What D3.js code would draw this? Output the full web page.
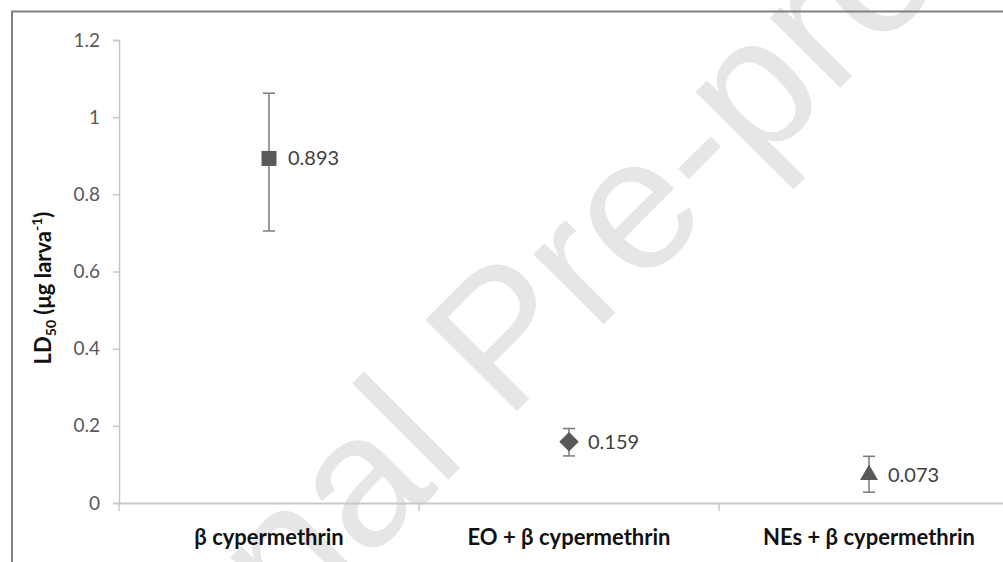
<!DOCTYPE html>
<html><head><meta charset="utf-8">
<script src="https://cdn.jsdelivr.net/npm/d3@7"></script>
<style>body{margin:0;background:#fff}svg{display:block}</style>
</head><body>
<script>
const categories = ["β cypermethrin", "EO + β cypermethrin", "NEs + β cypermethrin"];
const values = [0.893, 0.159, 0.073];
const upper = [1.062, 0.193, 0.121];
const lower = [0.705, 0.122, 0.028];
const shapes = ["square", "diamond", "triangle"];
const yTicks = [0, 0.2, 0.4, 0.6, 0.8, 1, 1.2];

const W = 1003, H = 562;
const FONT = "Lato, 'Open Sans', sans-serif";
const svg = d3.select("body").append("svg").attr("width", W).attr("height", H);

// watermark
svg.append("text")
  .attr("transform", "translate(33,895) rotate(-45)")
  .attr("text-anchor", "start")
  .style("font-family", "'Liberation Sans', Arial, sans-serif").style("font-size", "188px")
  .attr("fill", "#e6e6e6").text("Journal Pre-proof");

// outer border
svg.append("rect").attr("x", 12).attr("y", 11.5).attr("width", W + 20).attr("height", H + 20)
  .attr("fill", "none").attr("stroke", "#808080").attr("stroke-width", 2);

const x = d3.scaleBand().domain(categories).range([119, 1019]);
const y = d3.scaleLinear().domain([0, 1.2]).range([503, 40]);

const fmt = d => d === 0 || d === 1 ? String(d) : d.toFixed(1);
const yAxis = svg.append("g").attr("transform", "translate(119,0)")
  .call(d3.axisLeft(y).tickValues(yTicks).tickFormat(fmt).tickSize(6).tickPadding(13));
yAxis.select(".domain").attr("stroke", "#c8c8c8").attr("stroke-width", 1.5);
yAxis.selectAll(".tick line").attr("stroke", "#c8c8c8").attr("stroke-width", 1.5);
yAxis.selectAll(".tick text").attr("fill", "#595959")
  .style("font-family", FONT).style("font-size", "19px");

const xAxis = svg.append("g").attr("transform", "translate(0,503)")
  .call(d3.axisBottom(x).tickSize(0).tickPadding(0).tickFormat(""));
xAxis.select(".domain").attr("stroke", "#c8c8c8").attr("stroke-width", 2);
svg.selectAll(".catTick").data(categories).join("line")
  .attr("x1", d => x(d)).attr("x2", d => x(d)).attr("y1", 503).attr("y2", 511)
  .attr("stroke", "#c8c8c8").attr("stroke-width", 1.5);

svg.selectAll(".catLabel").data(categories).join("text")
  .attr("x", d => x(d) + x.bandwidth() / 2).attr("y", 545)
  .attr("text-anchor", "middle").attr("fill", "#111")
  .style("font-family", FONT).style("font-weight", "bold").style("font-size", "22px")
  .text(d => d);

// axis title
const at = svg.append("text").attr("transform", "translate(51,288) rotate(-90)")
  .attr("text-anchor", "middle").attr("fill", "#111")
  .style("font-family", FONT).style("font-weight", "bold").style("font-size", "22px");
at.append("tspan").text("LD");
at.append("tspan").attr("dy", 5).style("font-size", "14px").text("50");
at.append("tspan").attr("dy", -5).text(" (μg larva");
at.append("tspan").attr("dy", -9).style("font-size", "14px").text("-1");
at.append("tspan").attr("dy", 9).text(")");

// error bars and markers
const data = categories.map((c, i) => ({c, v: values[i], hi: upper[i], lo: lower[i], s: shapes[i]}));
const cx = d => x(d.c) + x.bandwidth() / 2;
const g = svg.append("g");
g.selectAll(".eb").data(data).join("line")
  .attr("x1", cx).attr("x2", cx).attr("y1", d => y(d.hi)).attr("y2", d => y(d.lo))
  .attr("stroke", "#7a7a7a").attr("stroke-width", 1.5);
["hi", "lo"].forEach(k => {
  g.selectAll(".cap" + k).data(data).join("line")
    .attr("x1", d => cx(d) - 6).attr("x2", d => cx(d) + 6)
    .attr("y1", d => y(d[k])).attr("y2", d => y(d[k]))
    .attr("stroke", "#7a7a7a").attr("stroke-width", 1.5);
});
const symMap = {square: d3.symbolSquare, diamond: d3.symbolSquare, triangle: d3.symbolTriangle};
const sizeMap = {square: 225, diamond: 190, triangle: 140};
const rotMap = {square: 0, diamond: 45, triangle: 0};
g.selectAll(".pt").data(data).join("path")
  .attr("transform", d => `translate(${cx(d)},${y(d.v)}) rotate(${rotMap[d.s]})`)
  .attr("d", d => d3.symbol().type(symMap[d.s]).size(sizeMap[d.s])())
  .attr("fill", "#595959");
g.selectAll(".lbl").data(data).join("text")
  .attr("x", d => cx(d) + 19).attr("y", d => y(d.v) + 7)
  .attr("fill", "#404040")
  .style("font-family", FONT).style("font-size", "20px")
  .text(d => d.v.toFixed(3));
</script>
</body></html>
